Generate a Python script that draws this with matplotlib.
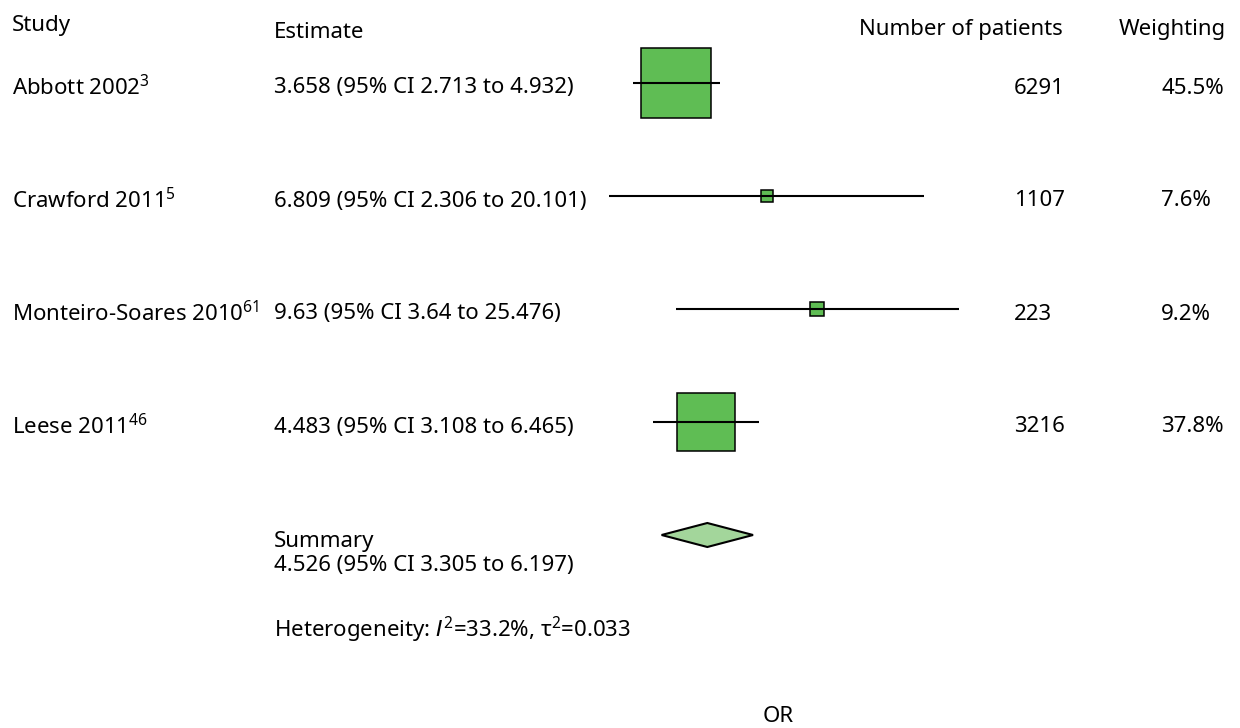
import matplotlib
matplotlib.use('Agg')
import matplotlib.pyplot as plt
from matplotlib.patches import Polygon

# per-study odds ratios
studies = ['Abbott 2002', 'Crawford 2011', 'Monteiro-Soares 2010', 'Leese 2011']
refs = ['3', '5', '61', '46']
estimate = [3.658, 6.809, 9.63, 4.483]
ci_low = [2.713, 2.306, 3.64, 3.108]
ci_high = [4.932, 20.101, 25.476, 6.465]
patients = [6291, 1107, 223, 3216]
weights = [45.5, 7.6, 9.2, 37.8]

# pooled result
summary_est = 4.526
summary_low = 3.305
summary_high = 6.197
i_squared = 33.2
tau_squared = 0.033

plt.rcParams['font.family'] = ['Noto Sans', 'DejaVu Sans']
plt.rcParams['mathtext.fontset'] = 'custom'
plt.rcParams['mathtext.rm'] = 'Noto Sans'
plt.rcParams['mathtext.it'] = 'DejaVu Sans:italic'

W, H = 1240, 728
fig = plt.figure(figsize=(W / 100, H / 100), dpi=100)

# plotting strip, log scale: OR 2 sits at x=588.5 px, OR 30 at x=982.5 px
ax = fig.add_axes([588.5 / W, 0, 394 / W, 1])
ax.set_xscale('log')
ax.set_xlim(2, 30)
row0, row_step = 83, 113
ax.set_ylim((H - row0) / row_step, -row0 / row_step)
ax.axis('off')

green = '#5fbd54'
light_green = '#a3d69b'
px_per_weight = 1.55

for i in range(len(studies)):
    side = px_per_weight * weights[i] * 0.72
    ax.plot(estimate[i], i, marker='s', markersize=side, markerfacecolor=green,
            markeredgecolor='black', markeredgewidth=1.1, zorder=2)
    ax.plot([ci_low[i], ci_high[i]], [i, i], color='black', lw=1.5, zorder=3,
            solid_capstyle='butt')

k = len(studies)
half = 12 / row_step
diamond = Polygon([(summary_low, k), (summary_est, k - half), (summary_high, k),
                   (summary_est, k + half)], closed=True, facecolor=light_green,
                  edgecolor='black', lw=1.5, zorder=2)
ax.add_patch(diamond)


def put(x, y, s, **kw):
    fig.text(x / W, 1 - y / H, s, va='center', fontsize=16, **kw)


# headers
put(12, 26, 'Study')
put(274, 32, 'Estimate')
put(1063, 29, 'Number of patients', ha='right')
put(1226, 29, 'Weighting', ha='right')

for i in range(len(studies)):
    y = row0 + row_step * i + 5
    put(12, y, studies[i] + '$^{' + refs[i] + '}$')
    put(274, y, f'{estimate[i]:g} (95% CI {ci_low[i]:g} to {ci_high[i]:g})')
    put(1014, y, str(patients[i]))
    put(1161, y, f'{weights[i]}%')

put(274, 541, 'Summary')
put(274, 565, f'{summary_est:g} (95% CI {summary_low:g} to {summary_high:g})')
put(274, 630, 'Heterogeneity: $\\mathit{I}^{2}$=' + f'{i_squared}%, τ' + '$^{2}$=' + f'{tau_squared:g}')
put(778, 717, 'OR', ha='center')

fig.savefig('out.png', dpi=100)
